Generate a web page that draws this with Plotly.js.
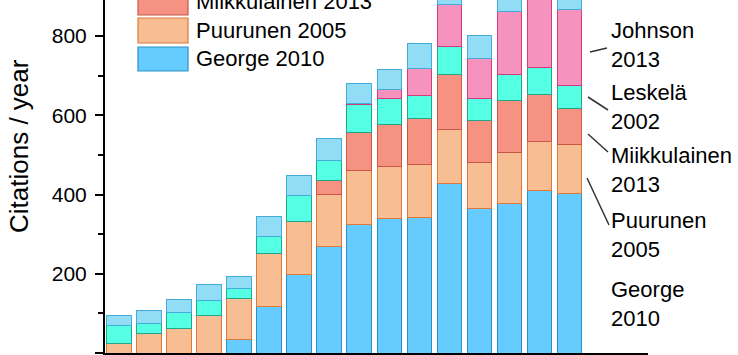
<!DOCTYPE html>
<html>
<head>
<meta charset="utf-8">
<script src="https://cdn.plot.ly/plotly-3.0.1.min.js"></script>
<style>html,body{margin:0;padding:0;background:#fff;}#chart{width:738px;height:355px;}</style>
</head>
<body>
<div id="chart"></div>
<script>
// ---- data ----
const years = [2006,2007,2008,2009,2010,2011,2012,2013,2014,2015,2016,2017,2018,2019,2020,2021];
const george2010      = [null,null,null,null,35,117,197,270,325,340,343,428,364,378,409,403];
const puurunen2005    = [24,50,62,94,102,134,136,129,136,131,134,137,118,129,124,123];
const miikkulainen2013= [null,null,null,null,null,null,null,36,96,105,114,137,104,131,120,92];
const leskela2002     = [45,25,40,38,25,42,64,50,69,66,58,71,57,64,68,57];
const johnson2013     = [null,null,null,null,null,null,null,null,3,23,68,107,100,161,210,193];
const others          = [26,32,32,40,30,52,50,57,50,51,63,50,59,55,50,50];

const seriesNames = ['George 2010','Puurunen 2005','Miikkulainen 2013','Leskelä 2002','Johnson 2013','Others'];
const yTickVals = [0,200,400,600,800];

// ---- styling ----
const FONT = 'Liberation Sans, Arial, sans-serif';
const fills = ['#66CCFF','#F7BE94','#F59282','#55FFE4','#F592BE','#93DCF5'];
const lines = ['#2E8FC4','#E0783A','#C8574A','#25A58A','#D23C7C','#45ACDA'];
const seriesData = [george2010, puurunen2005, miikkulainen2013, leskela2002, johnson2013, others];

const traces = seriesData.map((vals, i) => ({
  type: 'bar', x: years, y: vals, name: seriesNames[i], width: 0.833,
  marker: {color: fills[i], line: {color: lines[i], width: 1}},
  showlegend: false, hoverinfo: 'x+y+name'
}));

// pixel -> paper helpers (plot area: x 105..648, y 0..353)
const L = 105, R = 648, T = 0, B = 353;
const px = v => (v - L) / (R - L);
const py = v => (B - v) / (B - T);

const shapes = [];
const annotations = [];

// legend (partly cut in reference)
const legendRows = [
  {name: 'Miikkulainen 2013', idx: 2, top: -10, bot: 15, cy: 2},
  {name: 'Puurunen 2005', idx: 1, top: 18, bot: 43, cy: 30.5},
  {name: 'George 2010', idx: 0, top: 47, bot: 71, cy: 58.5}
];
legendRows.forEach(r => {
  shapes.push({type: 'rect', xref: 'paper', yref: 'paper', x0: px(138), x1: px(188), y0: py(r.bot), y1: py(r.top),
    fillcolor: fills[r.idx], line: {color: lines[r.idx], width: 1.2}});
  annotations.push({xref: 'paper', yref: 'paper', x: px(194), y: py(r.cy), xanchor: 'left', yanchor: 'middle',
    text: r.name, showarrow: false, font: {family: FONT, size: 22, color: '#000'}});
});

// right side labels
const rightLabels = [
  {text: 'Johnson<br>2013', cy: 45},
  {text: 'Leskelä<br>2002', cy: 106.5},
  {text: 'Miikkulainen<br>2013', cy: 170},
  {text: 'Puurunen<br>2005', cy: 234.5},
  {text: 'George<br>2010', cy: 303.5}
];
rightLabels.forEach(r => {
  annotations.push({xref: 'paper', yref: 'paper', x: px(609), y: py(r.cy), xanchor: 'left', yanchor: 'middle',
    align: 'left', text: r.text, showarrow: false, font: {family: FONT, size: 22, color: '#000'}});
});
const leaders = [
  [590,52,607,48],
  [588,97,608,110],
  [588,134,608,152],
  [587,178,609,225]
];
leaders.forEach(l => {
  shapes.push({type: 'line', xref: 'paper', yref: 'paper', x0: px(l[0]), y0: py(l[1]), x1: px(l[2]), y1: py(l[3]),
    line: {color: '#333', width: 1.5}});
});

// y axis title
annotations.push({xref: 'paper', yref: 'paper', x: px(19), y: py(146), xanchor: 'center', yanchor: 'middle',
  text: 'Citations / year', textangle: -90, showarrow: false, font: {family: FONT, size: 26, color: '#000'}});

const layout = {
  width: 738, height: 355,
  margin: {l: L, r: 738 - R, t: T, b: 355 - B, pad: 0},
  paper_bgcolor: '#fff', plot_bgcolor: '#fff',
  barmode: 'stack', bargap: 0,
  font: {family: FONT, color: '#000'},
  xaxis: {range: [years[0] - 0.483, years[0] + 17.617], showline: true, linewidth: 2, linecolor: '#000',
    ticks: '', showticklabels: false, showgrid: false, zeroline: false, fixedrange: true},
  yaxis: {range: [0, 891], showline: true, linewidth: 2, linecolor: '#000', ticks: 'outside', ticklen: 8,
    tickwidth: 2, tickcolor: '#000', tickmode: 'array', tickvals: yTickVals, ticktext: yTickVals.map(String),
    tickfont: {family: FONT, size: 21, color: '#000'}, ticklabelstandoff: 4,
    minor: {dtick: 100, tick0: 0, ticks: 'outside', ticklen: 5, tickwidth: 2, tickcolor: '#000', showgrid: false},
    showgrid: false, zeroline: false, fixedrange: true},
  shapes: shapes,
  annotations: annotations,
  showlegend: false
};

Plotly.newPlot('chart', traces, layout, {displayModeBar: false, staticPlot: true});
</script>
</body>
</html>
